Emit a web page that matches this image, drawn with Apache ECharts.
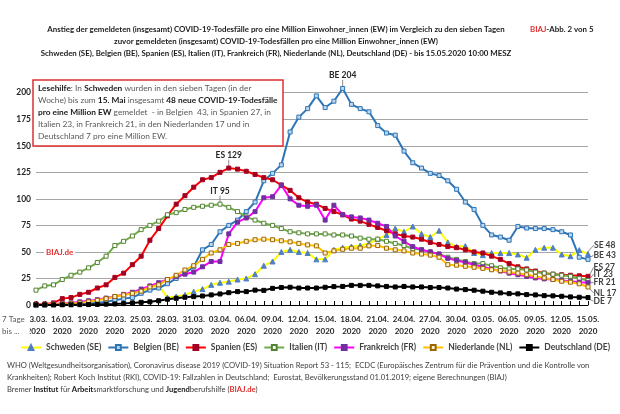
<!DOCTYPE html>
<html><head><meta charset="utf-8">
<script src="https://cdn.jsdelivr.net/npm/echarts@6/dist/echarts.min.js"></script>
<style>html,body{margin:0;padding:0;background:#fff}#c{width:620px;height:414px}</style>
</head><body><div id="c"></div>
<script>
const dates = ["13.03.","14.03.","15.03.","16.03.","17.03.","18.03.","19.03.","20.03.","21.03.","22.03.","23.03.","24.03.","25.03.","26.03.","27.03.","28.03.","29.03.","30.03.","31.03.",
"01.04.","02.04.","03.04.","04.04.","05.04.","06.04.","07.04.","08.04.","09.04.","10.04.","11.04.","12.04.","13.04.","14.04.","15.04.","16.04.","17.04.","18.04.","19.04.","20.04.","21.04.","22.04.","23.04.","24.04.","25.04.","26.04.","27.04.","28.04.","29.04.","30.04.",
"01.05.","02.05.","03.05.","04.05.","05.05.","06.05.","07.05.","08.05.","09.05.","10.05.","11.05.","12.05.","13.05.","14.05.","15.05."];
const yearLabel = "2020";
const yTicks = [0, 25, 50, 75, 100, 125, 150, 175, 200];

const seriesNames = ["Schweden (SE)","Belgien (BE)","Spanien (ES)","Italien (IT)","Frankreich (FR)","Niederlande (NL)","Deutschland (DE)"];
const endLabels = ["SE 48","BE 43","ES 27","IT 23","FR 21","NL 17","DE 7"];

const valSE = [0.3,0.5,0.7,1,1.5,2,3,4.5,6,8,9.5,11,13,16.5,18.5,
  7,8,9.5,12.5,15,19,21,22,24,25,29,37,41,50,52,50,49,
  43,43,52,54,55,56,58,62,66,72,
  69,74,67,64,70,59,55,55.5,49,47,49,49,49,47.6,44.5,52,54,54,47.6,46,51.7,48];
const valBE = [0.5,0.5,1,1,1,1.5,1.5,2,3,4.5,6,7,11,14,16,20,25,30,36,52,
  57,69,75,80,88,97,117,124,132,163,177,185,197,186,192,204,189,185,182,169,162,160,
  145,134,129,124,122,117,109,97,90,75,66,64,61,74,72.5,72,72,71,69,66,45,43];
const valES = [1,1,2,6,7,10,12,16,19,26,30,38,46,61,72,84,95,103,111,118,
  120,125,129,128,126,123,120,118,113,108,101,97,95,91,88,85,81,79,76,73,70,67,
  65,64,62,59,57,55,54,52,50,49,46,43,39,36,34,32,30,29,28.5,28,27.5,27];
const valIT = [14,18,19,24,28,31,35,40,46,56,60,65,71,75,79,85,87,90,92,93,94,95,
  92,88,83,80,77,75,72,69,68,67,
  67,67,66,66,65,63,62,62,60,58,
  56,53,52,50,48,45,43,41,39,39,37,35,34,34,33,31,30,29,28,27,25,23];
const valFR = [0.5,0.7,1,1.5,2,3,4,5,6.5,8,10,12,15,18,21,24,27,29,31,36,41,41,
  67,78,82,88,101,102,113,100,94,93,94,80,94,85,83,82,80,77,74,65,
  60,55,52,50,48,44,42,40,38,36,34,32,30,28.5,27,25.5,24.6,24,23,22.4,21.5,21];
const valNL = [0.3,0.5,0.7,1,1.5,2,3,4.5,6,8,9.5,11,13,17,19,24,28,33,37,43,49,52,
  57,58,60,61.5,62,61.5,60.5,59.5,58,56.6,55.7,49,51,52.5,53.5,53.5,55.7,56,53.5,52,
  51,49,48,47,45,38,37.5,36.5,35.5,34.5,33.2,32.5,31,30,28.5,27,25.5,24,22.4,21.5,20,17];
const valDE = [0.1,0.1,0.1,0.2,0.2,0.3,0.4,0.6,0.8,1,1.3,2,2.5,3,4,5.4,6.3,7.3,7.9,8.5,
  9.5,10.4,11.6,12.6,12.6,14,13.8,15.7,16.5,16.7,16,16,16,16.7,17.3,17.5,18.5,18.5,18.5,18,17.5,17,
  17.5,17,17,16.5,16.5,16,15,14.5,13.9,13,12,11.4,10.7,10.5,9.8,9.5,8.8,8.6,8.2,7.6,7.3,7];

const peaks = {1: [35, "BE 204"], 2: [22, "ES 129"], 3: [21, "IT 95"]};
const allVals = [valSE, valBE, valES, valIT, valFR, valNL, valDE];

const title1 = 'Anstieg der gemeldeten (insgesamt) COVID-19-Todesfälle pro eine Million Einwohner_innen (EW) im Vergleich zu den sieben Tagen';
const title2 = 'zuvor gemeldeten (insgesamt) COVID-19-Todesfällen pro eine Million Einwohner_innen (EW)';
const title3 = 'Schweden (SE), Belgien (BE), Spanien (ES), Italien (IT), Frankreich (FR), Niederlande (NL), Deutschland (DE) - bis 15.05.2020 10:00 MESZ';
const foot1 = 'WHO (Weltgesundheitsorganisation), Coronavirus disease 2019 (COVID-19) Situation Report 53 - 115;  ECDC (Europäisches Zentrum für die Prävention und die Kontrolle von';
const foot2 = 'Krankheiten); Robert Koch Institut (RKI), COVID-19: Fallzahlen in Deutschland;  Eurostat, Bevölkerungsstand 01.01.2019; eigene Berechnungen (BIAJ)';

const styles = [
  {line:'#ffff00', sym:'triangle', fill:'#4f7fc6', border:'#4f7fc6', size:5, dy:-9},
  {line:'#2e75b6', sym:'rect', fill:'#bdd7ee', border:'#2e75b6', size:4, dy:-4},
  {line:'#ff0000', sym:'rect', fill:'#a50021', border:'#a50021', size:4, dy:-9},
  {line:'#70ad47', sym:'rect', fill:'#ffffff', border:'#548235', size:4, dy:-6.5},
  {line:'#ff00ff', sym:'rect', fill:'#7030a0', border:'#7030a0', size:4, dy:0},
  {line:'#ffc000', sym:'rect', fill:'#fff2cc', border:'#9c6500', size:4, dy:6},
  {line:'#000000', sym:'rect', fill:'#000000', border:'#000000', size:4, dy:3.5}
];
const LF = "Lato, 'Open Sans', sans-serif";

// text fitting helper (layout only)
const mctx = document.createElement('canvas').getContext('2d');
function mw(segs, size) {
  let w = 0;
  segs.forEach(s => { mctx.font = (s[1] ? 'bold ' : '') + size + 'px ' + LF; w += mctx.measureText(s[0]).width; });
  return w;
}
function fit(segs, target) { return 10 * target / mw(segs, 10); }

const titleSize = fit([[title1, true]], 458);
const footSize = fit([[foot1, false]], 583);
const noteSize = fit([['Woche) bis zum ', false], ['15. Mai', true], [' insgesamt ', false], ['48 neue COVID-19-Todesfälle', true]], 240);
const legSize = 8.5;
let legTextW = 0; seriesNames.forEach(n => { legTextW += mw([[n, true]], legSize); });
const legIconW = 20;
const legGap = Math.max(4, (583 - legTextW - 7 * (legIconW + 5)) / 6);

const last = dates.length - 1;
const series = allVals.map((vals, si) => {
  const st = styles[si];
  const data = vals.map((v, i) => {
    if (i === last) {
      return {value: v, label: {show: true, formatter: endLabels[si], position: 'right', distance: 3,
        fontFamily: LF, fontWeight: 'bold', fontSize: 8.5, color: '#404040'}};
    }
    if (peaks[si] && peaks[si][0] === i) {
      return {value: v, label: {show: true, formatter: peaks[si][1], position: 'top', distance: 6,
        fontFamily: LF, fontWeight: 'bold', fontSize: 8.5, color: '#262626'}};
    }
    return v;
  });
  return {
    name: seriesNames[si], type: 'line', data: data, clip: false,
    symbol: st.sym, symbolSize: st.size, showAllSymbol: true,
    lineStyle: {color: st.line, width: 2},
    itemStyle: {color: st.fill, borderColor: st.border, borderWidth: 1},
    emphasis: {disabled: true}, animation: false,
    labelLayout: function (p) { return p.dataIndex === last ? {dy: st.dy} : {}; },
    labelLine: {show: true, lineStyle: {color: '#8c8c8c', width: 1}, length2: 0}
  };
});

const chart = echarts.init(document.getElementById('c'), null, {renderer: 'canvas'});
chart.setOption({
  animation: false,
  backgroundColor: '#fff',
  grid: {left: 36, right: 32, top: 92.7, bottom: 109, containLabel: false},
  xAxis: {
    type: 'category', data: dates, boundaryGap: false,
    axisLine: {lineStyle: {color: '#000', width: 1}},
    axisTick: {show: true, inside: true, length: 4, interval: 0, lineStyle: {color: '#000'}},
    axisLabel: {interval: 2, margin: 8, fontFamily: LF, fontWeight: 'bold', fontSize: 8, color: '#262626',
      lineHeight: 12, showMinLabel: true, showMaxLabel: true, hideOverlap: false,
      formatter: function (v) { return v + '\n' + yearLabel; }},
    splitLine: {show: false}
  },
  yAxis: {
    type: 'value', min: yTicks[0], max: yTicks[yTicks.length - 1], interval: 25,
    axisLine: {show: false}, axisTick: {show: false},
    axisLabel: {margin: 5, fontFamily: LF, fontWeight: 'bold', fontSize: 8.5, color: '#262626'},
    splitLine: {lineStyle: {color: '#a6a6a6', width: 1}}
  },
  legend: {
    data: seriesNames, top: 338, left: 15, itemGap: legGap, itemWidth: legIconW, itemHeight: 6,
    textStyle: {fontFamily: LF, fontWeight: 'bold', fontSize: legSize, color: '#404040'},
    selectedMode: false
  },
  series: series,
  graphic: [
    {type: 'text', x: 276, y: 29, z: 100, style: {text: title1, font: 'bold ' + titleSize + 'px ' + LF, fill: '#1a1a1a', align: 'center', verticalAlign: 'middle'}},
    {type: 'text', x: 530, y: 29, z: 100, style: {text: '{r|BIAJ}{k|-Abb. 2 von 5}', verticalAlign: 'middle',
      rich: {r: {fill: '#e03030', font: 'bold ' + titleSize + 'px ' + LF}, k: {fill: '#1a1a1a', font: 'bold ' + titleSize + 'px ' + LF}}}},
    {type: 'text', x: 276, y: 41, z: 100, style: {text: title2, font: 'bold ' + titleSize + 'px ' + LF, fill: '#1a1a1a', align: 'center', verticalAlign: 'middle'}},
    {type: 'text', x: 276, y: 53, z: 100, style: {text: title3, font: 'bold ' + titleSize + 'px ' + LF, fill: '#1a1a1a', align: 'center', verticalAlign: 'middle'}},
    {type: 'rect', z: 90, shape: {x: 33, y: 80, width: 250, height: 66},
      style: {fill: '#fff', stroke: '#e03030', lineWidth: 1.5}},
    {type: 'text', left: 38, top: 84, z: 100, style: {
      text: '{b|Lesehilfe}{n|: In }{b|Schweden}{n| wurden in den sieben Tagen (in der}\n{n|Woche) bis zum }{b|15. Mai}{n| insgesamt }{b|48 neue COVID-19-Todesfälle}\n{b|pro eine Million EW}{n| gemeldet  - in Belgien  43, in Spanien 27, in}\n{n|Italien 23, in Frankreich 21, in den Niederlanden 17 und in}\n{n|Deutschland 7 pro eine Million EW.}',
      rich: {b: {font: 'bold ' + noteSize + 'px ' + LF, fill: '#1a1a1a', lineHeight: 12.2}, n: {font: noteSize + 'px ' + LF, fill: '#595959', lineHeight: 12.2}}}},
    {type: 'text', left: 44, top: 247, z: 100, style: {text: 'BIAJ.de', font: 'bold 8px ' + LF, fill: '#e03030',
      backgroundColor: '#fff', padding: [1, 2]}},
    {type: 'text', left: 0, top: 313, z: 100, style: {text: '7 Tage\nbis ...', font: '8px ' + LF, fill: '#595959',
      lineHeight: 12, backgroundColor: '#fff', padding: [0, 5, 0, 2], align: 'left'}},
    {type: 'text', x: 7, y: 366, z: 100, style: {text: foot1, font: footSize + 'px ' + LF, fill: '#404040', verticalAlign: 'middle'}},
    {type: 'text', x: 7, y: 378, z: 100, style: {text: foot2, font: footSize + 'px ' + LF, fill: '#404040', verticalAlign: 'middle'}},
    {type: 'text', x: 7, y: 390, z: 100, style: {verticalAlign: 'middle',
      text: '{n|Bremer }{b|Institut}{n| für }{b|Arbeit}{n|smarktforschung und }{b|Jugend}{n|berufshilfe (}{r|BIAJ.de}{n|)}',
      rich: {n: {font: footSize + 'px ' + LF, fill: '#404040'}, b: {font: 'bold ' + footSize + 'px ' + LF, fill: '#1a1a1a'}, r: {font: 'bold ' + footSize + 'px ' + LF, fill: '#e03030'}}}}
  ]
});
</script></body></html>
